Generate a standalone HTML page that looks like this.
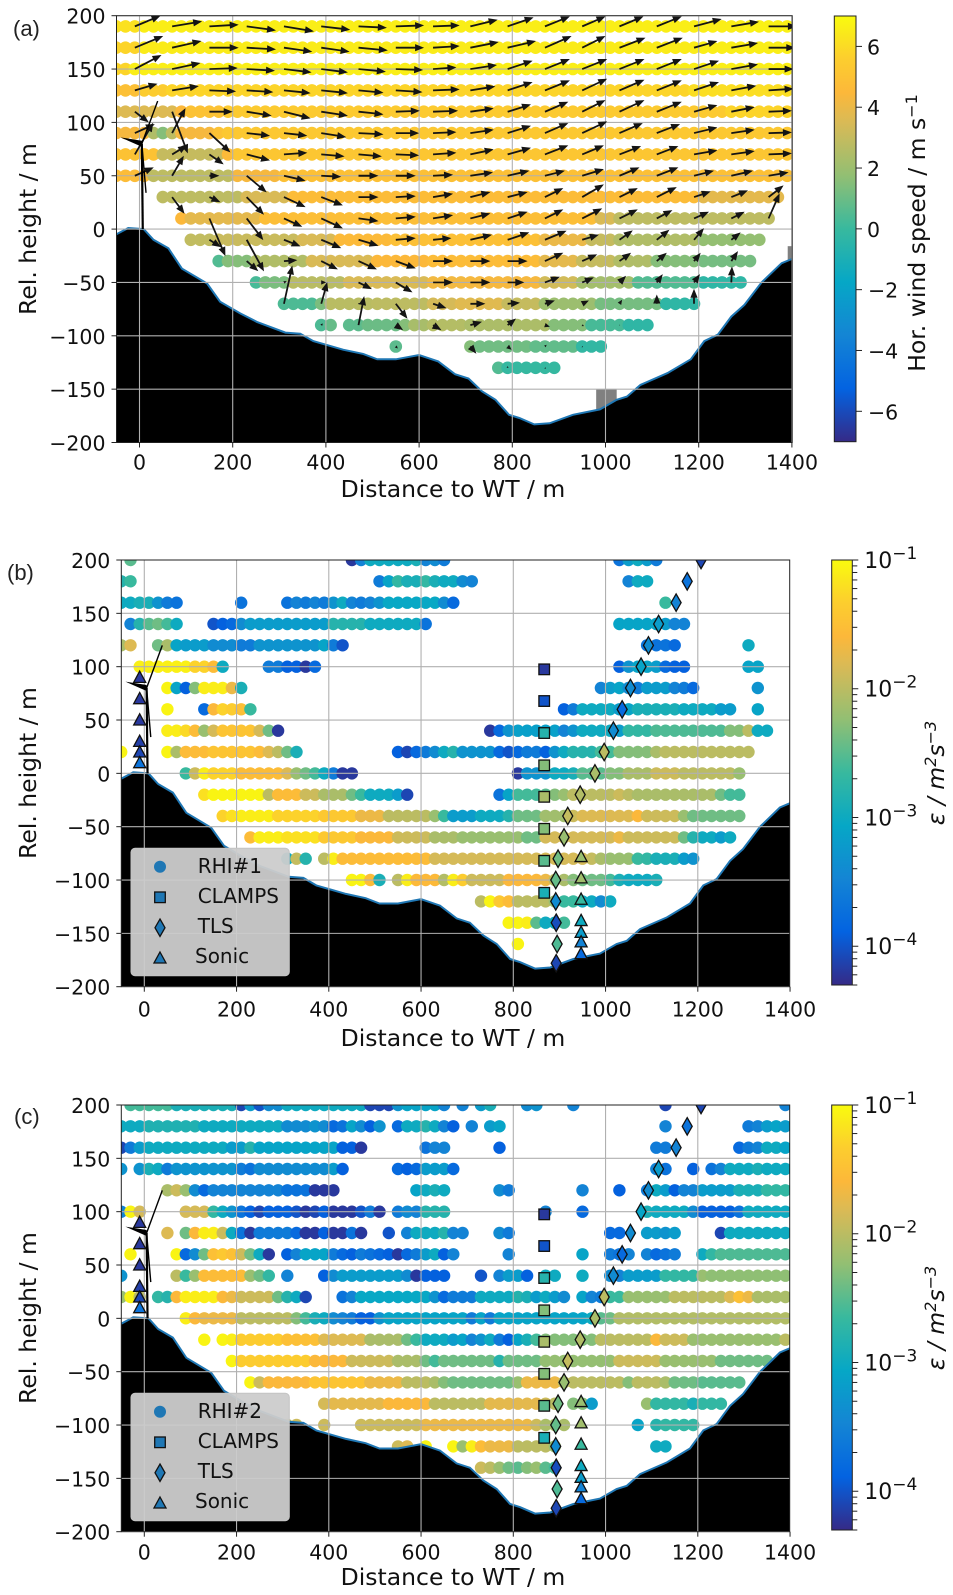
<!DOCTYPE html>
<html lang="en">
<head>
<meta charset="utf-8">
<title>Wind speed and dissipation rate along valley cross-section</title>
<style>
html,body{margin:0;padding:0;background:#fff;}
svg{display:block;}
text{font-family:"DejaVu Sans","Liberation Sans",sans-serif;fill:#111;}
.lab{font-size:23.5px;}
.leg{font-size:20px;}
.pl{font-family:"Liberation Sans",sans-serif;font-size:22px;fill:#222;}
</style>
</head>
<body>
<svg id="chart" xmlns="http://www.w3.org/2000/svg" width="953" height="1595" viewBox="0 0 953 1595">
<defs>
<clipPath id="clip-a"><rect x="116.5" y="15.7" width="675.7" height="426.8"/></clipPath>
<clipPath id="clip-b"><rect x="121.3" y="560" width="668.4" height="426.7"/></clipPath>
<clipPath id="clip-c"><rect x="121.3" y="1105" width="668.4" height="426.7"/></clipPath>
<linearGradient id="cmap" x1="0" y1="1" x2="0" y2="0"></linearGradient>
</defs>
<rect x="0" y="0" width="953" height="1595" fill="#fff"/>

<g id="panel-a"></g>
<g id="panel-b"></g>
<g id="panel-c"></g>

<text class="pl" x="13" y="36">(a)</text>
<text class="pl" x="7" y="580">(b)</text>
<text class="pl" x="14" y="1124">(c)</text>

<text class="lab" x="36" y="229" text-anchor="middle" transform="rotate(-90 36 229)">Rel. height / m</text>
<text class="lab" x="36" y="773" text-anchor="middle" transform="rotate(-90 36 773)">Rel. height / m</text>
<text class="lab" x="36" y="1318" text-anchor="middle" transform="rotate(-90 36 1318)">Rel. height / m</text>

<text class="lab" x="453" y="497" text-anchor="middle">Distance to WT / m</text>
<text class="lab" x="453" y="1046" text-anchor="middle">Distance to WT / m</text>
<text class="lab" x="453" y="1585" text-anchor="middle">Distance to WT / m</text>

<text class="lab" x="925" y="233" text-anchor="middle" transform="rotate(-90 925 233)">Hor. wind speed / m s<tspan dy="-8" font-size="16">−1</tspan></text>
<text class="lab" x="944" y="773" text-anchor="middle" transform="rotate(-90 944 773)" font-style="italic">ε / m<tspan dy="-8" font-size="16">2</tspan><tspan dy="8">s</tspan><tspan dy="-8" font-size="16">−3</tspan></text>
<text class="lab" x="944" y="1318" text-anchor="middle" transform="rotate(-90 944 1318)" font-style="italic">ε / m<tspan dy="-8" font-size="16">2</tspan><tspan dy="8">s</tspan><tspan dy="-8" font-size="16">−3</tspan></text>

<g>
<rect x="131" y="848.3" width="158.3" height="127.4" rx="4" fill="#cccccc" fill-opacity="0.95" stroke="#c4c4c4"/>
<circle cx="160" cy="866.7" r="6" fill="#1f77b4"/>
<rect x="154.7" y="892" width="10.6" height="10.6" fill="#1f77b4" stroke="#111" stroke-width="1.3"/>
<polygon points="160,919 165,927.7 160,936.4 155,927.7" fill="#1f77b4" stroke="#111" stroke-width="1.3"/>
<polygon points="160,952 166,963 154,963" fill="#1f77b4" stroke="#111" stroke-width="1.3"/>
<text class="leg" x="197.7" y="873">RHI#1</text>
<text class="leg" x="197.7" y="903">CLAMPS</text>
<text class="leg" x="197.7" y="933">TLS</text>
<text class="leg" x="195" y="963">Sonic</text>
</g>

<g>
<rect x="131" y="1393.3" width="158.3" height="127.4" rx="4" fill="#cccccc" fill-opacity="0.95" stroke="#c4c4c4"/>
<circle cx="160" cy="1411.7" r="6" fill="#1f77b4"/>
<rect x="154.7" y="1437" width="10.6" height="10.6" fill="#1f77b4" stroke="#111" stroke-width="1.3"/>
<polygon points="160,1464 165,1472.7 160,1481.4 155,1472.7" fill="#1f77b4" stroke="#111" stroke-width="1.3"/>
<polygon points="160,1497 166,1508 154,1508" fill="#1f77b4" stroke="#111" stroke-width="1.3"/>
<text class="leg" x="197.7" y="1418">RHI#2</text>
<text class="leg" x="197.7" y="1448">CLAMPS</text>
<text class="leg" x="197.7" y="1478">TLS</text>
<text class="leg" x="195" y="1508">Sonic</text>
</g>
</svg>

<script>
// ---------- shared axis data ----------
const xTickValues = [0, 200, 400, 600, 800, 1000, 1200, 1400];
const yTickValues = [200, 150, 100, 50, 0, -50, -100, -150, -200];
const windTickValues = [6, 4, 2, 0, -2, -4, -6];
const epsMajorExponents = [-1, -2, -3, -4];
const epsMinorMultipliers = [2, 3, 4, 5, 6, 7, 8, 9];

// ---------- terrain ----------
const terrainDistance = [-50,-24,9,30,62,91,145,173,216,252,313,345,373,437,480,510,550,600,641,677,706,735,764,793,815,847,880,930,988,1024,1046,1075,1133,1183,1212,1241,1270,1298,1335,1378,1400];
const terrainHeight = [-5,1,0,-10,-18,-37,-51,-68,-79,-87,-97,-98,-105,-113,-117,-122,-122,-118,-124,-136,-140,-152,-160,-174,-177,-183,-182,-174,-169,-160,-157,-146,-135,-122,-105,-99,-82,-71,-50,-32,-28];

// ---------- panel (a): wind speed rows, each run is [from m, to m, m/s] every 20 m ----------
const windHeights = [190,170,150,130,110,90,70,50,30,10,-10,-30,-50,-70,-90,-110,-130];
const windRuns = [
 [[-50,-10,6.2],[10,1290,6.6],[1310,1390,6.7]],
 [[-50,-10,5.8],[10,1190,6.5],[1210,1390,6.6]],
 [[-50,-30,5.8],[-10,1390,6.6]],
 [[-50,-10,4.9],[10,50,5.5],[70,1170,5.8],[1190,1390,6.1]],
 [[-50,70,3.6],[90,90,4.5],[110,170,5],[190,1250,5.4],[1270,1390,5.8]],
 [[-50,10,4.3],[30,30,2.5],[50,50,1.5],[70,70,2.8],[90,150,4.3],[170,170,5],[190,1390,5.3]],
 [[-50,30,5],[50,170,3],[190,190,4.6],[210,1390,5.2]],
 [[-50,10,4.7],[30,190,2.8],[210,290,4.3],[310,1390,4.9]],
 [[50,210,2.8],[230,310,3.5],[330,1190,4.7],[1210,1370,3.8]],
 [[90,90,4.5],[110,250,3.8],[270,970,4.8],[990,1010,3.5],[1030,1350,2.8]],
 [[110,150,2.9],[170,330,3.1],[350,410,3.5],[430,530,4.6],[550,850,4.9],[870,950,4],[970,1010,3],[1030,1190,2.5],[1210,1330,1.8]],
 [[170,170,0.5],[190,230,1.5],[250,350,2.5],[370,490,3.5],[510,610,4.5],[630,850,4.7],[870,930,3.8],[950,1010,3],[1030,1090,2.5],[1110,1190,1.5],[1210,1310,1.2]],
 [[250,250,0.3],[270,310,1.3],[330,430,2.7],[450,610,3.5],[630,690,4.2],[710,850,4.3],[870,930,3.3],[950,1050,2.2],[1070,1190,0.5],[1210,1290,-0.3]],
 [[310,370,0.4],[390,390,1.3],[410,490,2.7],[510,610,2.8],[630,670,3.4],[690,770,3.7],[790,850,3],[870,970,2],[990,1110,1.2],[1130,1190,-0.3]],
 [[390,390,0.4],[410,410,0.9],[450,470,0.7],[490,550,1],[570,570,1.5],[590,610,2.3],[630,690,2.6],[710,870,2.4],[890,950,1.5],[970,1030,0.3],[1050,1090,-0.3]],
 [[550,550,0.7],[710,710,1.5],[730,830,1.1],[850,930,0.8],[950,990,-0.2]],
 [[770,770,0.5],[790,890,-0.1]]
];

// ---------- panel (a): quiver ----------
const quiverColumns = [-10,70,150,230,310,390,470,550,630,710,790,870,950,1030,1110,1190,1270,1350];
const quiverHeights = [190,170,150,130,110,90,70,50,30,10,-10,-30,-50,-70,-90,-110,-130];
const quiverU = [
 [77,90,88,88,90,87,85,85,80,82,78,75,70,72,75,83,83,85],
 [85,88,88,88,85,85,88,85,80,85,85,80,70,78,78,70,80,80],
 [80,85,85,85,83,80,82,82,70,80,75,75,75,75,75,75,80,75],
 [68,80,80,80,80,80,75,80,80,75,75,75,75,75,75,75,75,75],
 [42,47,70,75,80,80,75,72,75,70,70,70,70,75,75,70,70,70],
 [60,40,63,70,70,75,75,70,70,70,70,70,75,70,70,70,70,70],
 [55,45,43,70,70,70,70,70,70,70,70,70,65,65,65,70,70,70],
 [57,35,30,60,65,60,60,60,60,68,65,60,65,60,65,60,65,60],
 [null,37,33,52,65,65,60,60,60,60,60,55,65,55,60,50,50,45],
 [null,null,48,50,55,65,60,60,60,60,60,55,60,55,47,45,40,33],
 [null,null,35,52,50,60,60,60,55,65,65,65,50,40,38,30,28,null],
 [null,null,null,35,40,50,55,60,60,60,60,55,45,35,30,20,20,null],
 [null,null,null,null,8,15,40,50,60,60,50,45,35,20,18,18,2,null],
 [null,null,null,null,25,18,4,35,40,45,37,30,20,8,0,0,null,null],
 [null,null,null,null,null,5,17,22,25,35,25,15,5,2,null,null,null,null],
 [null,null,null,null,null,null,null,6,null,18,12,5,2,null,null,null,null,null],
 [null,null,null,null,null,null,null,null,null,null,0,3,null,null,null,null,null,null]
];
const quiverV = [
 [32,15,5,-12,-15,-10,-4,3,3,20,27,30,30,30,30,22,14,0],
 [35,20,0,-5,-12,-12,-8,0,5,17,20,35,35,30,30,20,14,0],
 [42,18,3,-5,-10,-10,-8,-3,5,12,25,30,30,30,30,25,14,0],
 [20,13,-3,-5,-8,-8,-7,-5,3,12,25,30,35,32,30,25,14,5],
 [-32,-125,0,-12,-20,-12,-8,3,3,10,22,30,35,35,30,20,14,3],
 [27,75,-58,-8,-8,-12,-4,0,3,10,22,30,35,30,27,17,10,2],
 [95,27,-30,-18,5,-6,-6,-3,5,15,20,27,27,25,25,12,10,3],
 [25,60,0,-50,-15,-3,0,0,3,10,15,15,20,25,25,15,15,10],
 [null,-50,-15,-53,-30,-25,0,3,10,15,15,27,38,27,30,17,20,35],
 [null,null,-113,-65,-25,-30,-8,5,10,15,20,27,30,27,25,20,20,75],
 [null,null,-22,-95,-20,-25,-18,5,5,15,22,27,15,28,30,35,22,null],
 [null,null,null,-30,3,-25,-25,-22,0,0,0,25,20,25,25,25,30,null],
 [null,null,null,null,4,0,-20,-30,0,0,0,17,15,20,25,25,48,null],
 [null,null,null,null,115,65,2,-45,-13,0,3,10,10,12,28,45,null,null],
 [null,null,null,null,null,5,87,-15,-15,10,20,-5,-3,0,null,null,null,null],
 [null,null,null,null,null,null,null,-6,null,-22,-10,5,-2,null,null,null,null,null],
 [null,null,null,null,null,null,null,null,null,null,5,-3,null,null,null,null,null,null]
];

// ---------- panels (b),(c): log10 of dissipation rate, runs are [from m, to m, log10 eps] every 20 m ----------
const epsHeights = [200,180,160,140,120,100,80,60,40,20,0,-20,-40,-60,-80,-100,-120,-140,-160];
const epsRunsB = [
 [[-30,-30,-2.5],[450,450,-4.2],[470,470,-3.5],[490,570,-3],[590,590,-2.9],[610,610,-3.5],[630,630,-3.4],[650,650,-3.6],[1030,1030,-3.7],[1050,1050,-3.2],[1070,1070,-3],[1090,1090,-3.2],[1110,1110,-3.6]],
 [[-50,-50,-2.8],[-30,-30,-2.65],[510,510,-3.6],[530,530,-3.1],[550,550,-2.7],[570,590,-2.9],[610,610,-2.7],[630,630,-2.9],[650,670,-3],[690,690,-3.4],[710,710,-3.5],[1050,1050,-3.5],[1070,1090,-3]],
 [[-50,-30,-3],[-10,10,-2.9],[30,30,-3.3],[50,50,-3.6],[70,70,-3.7],[210,210,-3.7],[310,310,-3.7],[330,330,-3.5],[350,350,-3.6],[370,370,-3.5],[390,390,-3.6],[410,410,-3.3],[430,430,-3],[450,450,-3.5],[470,470,-3.6],[490,490,-3.5],[510,510,-3.3],[530,630,-3.05],[650,650,-3.4],[670,670,-3.8],[1130,1130,-2.65]],
 [[-30,-30,-3.5],[-10,-10,-2.8],[10,10,-2.5],[30,30,-2.4],[50,50,-2.6],[70,70,-3],[150,150,-4],[170,170,-3.9],[190,190,-3.8],[210,210,-3.4],[230,390,-3.2],[410,470,-2.8],[490,590,-3],[610,610,-3.7],[1030,1110,-3.1],[1130,1130,-3.2],[1150,1170,-3.5]],
 [[-50,-50,-2.1],[-30,-30,-1.8],[30,30,-2.4],[50,50,-2.1],[70,70,-3.1],[90,130,-3.2],[150,190,-3.4],[210,230,-3.6],[250,370,-3.3],[390,390,-3.1],[410,410,-3.6],[430,430,-4],[1090,1130,-3.7],[1150,1150,-3.8],[1310,1310,-3]],
 [[-10,90,-1.08],[110,130,-1.3],[150,150,-1.55],[170,170,-3],[270,290,-3.6],[310,330,-3.9],[350,350,-4.2],[370,370,-3.8],[1030,1030,-3.9],[1050,1050,-3.3],[1070,1090,-3.1],[1110,1110,-3.2],[1130,1130,-3.8],[1150,1170,-3.9],[1310,1330,-3.1]],
 [[50,50,-1.05],[70,70,-3.1],[90,90,-3.9],[110,110,-2.3],[130,170,-1.1],[190,190,-1.7],[210,210,-2.9],[990,990,-3.5],[1010,1010,-3.2],[1030,1030,-3.1],[1050,1050,-3.4],[1070,1070,-3.6],[1090,1110,-3.2],[1130,1130,-3.2],[1150,1150,-3.5],[1170,1170,-3.6],[1190,1190,-3.8],[1330,1330,-3.3]],
 [[50,50,-1.05],[130,130,-3.8],[150,150,-1.6],[170,170,-1.3],[190,190,-1.35],[210,210,-1.5],[230,230,-2.65],[910,910,-3.9],[930,930,-3.6],[950,1010,-3],[1030,1030,-3.2],[1050,1050,-3.1],[1070,1150,-2.9],[1170,1230,-3],[1250,1270,-3.2],[1330,1330,-3.1]],
 [[50,70,-1.1],[90,90,-1.25],[110,110,-1.55],[130,130,-2.2],[150,150,-1.85],[170,230,-1.45],[250,250,-1.85],[270,270,-2.4],[290,290,-4.2],[750,750,-4.2],[770,770,-3.8],[790,790,-3.3],[810,890,-3.15],[910,910,-3.5],[930,930,-3.3],[950,1010,-3],[1030,1030,-3.2],[1050,1090,-2.7],[1110,1250,-2.55],[1270,1290,-2.3],[1310,1310,-2],[1330,1350,-3]],
 [[-50,-50,-1.05],[50,50,-1.05],[70,70,-2.1],[90,130,-1.55],[150,230,-1.45],[250,250,-1.55],[270,270,-1.8],[290,290,-2],[310,310,-2.4],[330,330,-2.9],[550,550,-3.9],[570,570,-4.1],[590,590,-3.8],[610,610,-3.6],[630,630,-3.4],[650,650,-3],[670,670,-2.8],[690,750,-3.3],[770,770,-3.8],[790,790,-4],[810,810,-3.8],[830,850,-3.6],[870,870,-3.9],[890,890,-3.3],[910,910,-3],[930,970,-2.8],[990,1010,-2.6],[1030,1090,-2.3],[1110,1110,-2.1],[1130,1310,-2]],
 [[90,90,-2.65],[110,110,-1.9],[130,130,-1.1],[150,190,-1.3],[210,290,-1.55],[310,310,-1.8],[330,330,-2.2],[350,350,-2.4],[370,370,-2.6],[390,390,-3],[410,410,-3.6],[430,450,-4.2],[810,810,-4.2],[830,870,-3.3],[890,910,-3],[930,930,-2.9],[950,990,-2.5],[1010,1030,-2.3],[1050,1090,-2.1],[1110,1150,-1.9],[1170,1270,-2],[1290,1290,-2.2]],
 [[130,130,-1.2],[150,250,-1.05],[270,270,-2],[290,330,-1.55],[350,370,-1.9],[390,430,-2.1],[450,450,-2.4],[470,470,-2.65],[490,530,-3],[550,550,-3.2],[570,570,-4.1],[770,770,-3.7],[790,790,-3.1],[810,850,-2.6],[870,870,-2.5],[890,890,-2.3],[910,910,-2.2],[930,1010,-2],[1030,1030,-1.9],[1050,1050,-2],[1070,1230,-2.1],[1250,1250,-2.4],[1270,1290,-2.6]],
 [[170,170,-1.3],[190,190,-1.2],[210,270,-1.1],[290,370,-1.3],[390,450,-1.4],[470,510,-1.7],[530,610,-2],[630,630,-2.2],[650,650,-2.65],[670,710,-3.2],[730,770,-3],[790,790,-2.8],[810,850,-2.4],[870,910,-2.15],[930,930,-1.9],[950,1050,-1.8],[1070,1070,-1.6],[1090,1150,-1.9],[1170,1170,-2.2],[1190,1290,-2.4]],
 [[230,230,-1.55],[250,290,-1.1],[310,370,-1.2],[390,450,-1.4],[470,530,-1.6],[550,610,-1.9],[630,670,-2.1],[690,810,-2.2],[830,850,-2.4],[870,1010,-1.85],[1030,1030,-1.7],[1050,1150,-1.9],[1170,1170,-2.4],[1190,1190,-2.8],[1210,1230,-3],[1250,1250,-3.2],[1270,1270,-3]],
 [[310,310,-3],[330,330,-1.95],[350,350,-2.8],[390,390,-2],[410,410,-1.1],[430,610,-1.55],[630,950,-1.85],[970,970,-1.95],[990,990,-2.1],[1010,1050,-2.2],[1070,1070,-2.65],[1090,1090,-2.7],[1110,1150,-2.9],[1170,1170,-3.2],[1190,1190,-3.3]],
 [[450,470,-1.05],[490,490,-1.55],[510,510,-2.9],[550,550,-2],[570,570,-1.1],[590,630,-1.58],[650,650,-2.05],[670,670,-1.1],[690,690,-1.35],[710,770,-1.9],[790,850,-1.6],[870,870,-1.7],[890,890,-2],[910,910,-2.1],[930,930,-2.3],[950,990,-2.4],[1010,1010,-2.6],[1030,1030,-2.9],[1050,1090,-3],[1110,1110,-2.9]],
 [[730,730,-2],[750,750,-1.05],[770,770,-1.4],[790,790,-1.55],[810,870,-2],[890,890,-2.2],[910,930,-2.65],[950,970,-3],[990,990,-3.4],[1010,1010,-3]],
 [[790,810,-1.05],[830,830,-1.1],[850,850,-2.5],[870,890,-3],[910,910,-2.6]],
 [[810,810,-1.05]]
];
const epsRunsC = [
 [[-30,50,-2.6],[70,190,-2.9],[210,210,-4.1],[230,230,-3.2],[250,250,-4],[270,290,-3.4],[310,470,-3],[490,530,-4.1],[550,550,-3.3],[570,630,-3.1],[650,650,-3.5],[690,690,-3.5],[730,730,-3.2],[750,750,-2.9],[830,830,-3.4],[850,850,-3.3],[930,930,-3.5],[1130,1130,-4.1],[1390,1390,-3.5]],
 [[-50,-10,-3],[10,110,-2.85],[130,290,-3],[310,350,-3.4],[370,370,-3.3],[390,390,-3.4],[410,410,-3.8],[430,430,-3.7],[450,450,-3.1],[470,470,-3.4],[490,490,-3.9],[510,510,-3.3],[550,550,-3.8],[570,590,-3],[610,610,-2.8],[630,630,-3],[650,650,-3.5],[670,670,-3.9],[710,710,-3.5],[750,750,-3.2],[770,770,-3.1],[1130,1130,-3.5],[1310,1310,-3.6],[1330,1330,-3.5],[1350,1350,-3.2],[1370,1370,-3.1],[1390,1390,-3.2]],
 [[-50,-50,-4.1],[-30,-30,-3.6],[-10,-10,-3.2],[10,170,-3],[190,210,-3.2],[230,230,-2.8],[250,410,-3.1],[430,450,-3.9],[470,470,-4.2],[610,610,-3.7],[630,650,-3.5],[770,770,-3.9],[1110,1130,-3.6],[1290,1290,-3.8],[1310,1310,-3.6],[1330,1330,-3.5],[1350,1370,-3],[1390,1390,-3.1]],
 [[-50,-50,-3.3],[-10,-10,-3.3],[10,10,-2.9],[30,30,-3],[50,50,-3.6],[70,190,-3.3],[210,210,-3.6],[230,230,-3.7],[250,390,-3.4],[410,410,-3.2],[430,430,-3.9],[550,550,-3.8],[570,570,-3.9],[590,590,-3.8],[610,650,-3.2],[670,670,-3.8],[1110,1110,-3.5],[1130,1130,-3.7],[1190,1190,-3.9],[1230,1230,-3.7],[1250,1250,-3.5],[1270,1310,-3],[1330,1330,-2.9],[1350,1390,-3]],
 [[50,50,-2.1],[70,70,-1.9],[90,90,-2.2],[110,110,-3.4],[130,130,-3.8],[150,290,-3.5],[310,350,-3.7],[370,410,-4.2],[590,590,-3.1],[610,610,-3],[630,630,-2.9],[650,650,-3],[770,770,-3.4],[790,790,-3.6],[950,950,-3.5],[1030,1030,-3.9],[1090,1090,-3.6],[1110,1110,-3],[1130,1130,-3.2],[1150,1150,-3.9],[1170,1190,-3.5],[1210,1270,-3.2],[1290,1330,-2.9],[1350,1390,-2.7]],
 [[-50,-50,-3.5],[-30,-30,-1.05],[-10,-10,-1.85],[90,130,-1.85],[150,150,-2.7],[170,170,-3],[190,190,-3.3],[210,210,-3.7],[230,230,-3.9],[250,250,-4.1],[270,310,-3.9],[330,330,-4],[350,350,-4.2],[370,370,-4.1],[390,390,-3.9],[410,450,-4.2],[470,470,-4],[490,490,-3.6],[510,510,-4.2],[550,550,-3.6],[570,570,-3.4],[590,590,-3.5],[610,650,-2.8],[870,870,-3.5],[950,950,-3.8],[1090,1090,-2.9],[1110,1170,-3],[1190,1190,-3.4],[1210,1270,-3.9],[1290,1290,-3.7],[1310,1390,-3]],
 [[50,50,-1.8],[90,90,-2.4],[110,110,-1.6],[130,150,-1.1],[170,170,-1.9],[190,190,-3],[210,210,-3.7],[230,230,-4.2],[250,310,-3.6],[330,330,-3.8],[350,370,-4.2],[390,390,-3.9],[410,430,-4.2],[450,450,-3.7],[470,470,-4.2],[530,530,-4],[570,570,-3.5],[590,630,-3],[650,650,-2.8],[670,690,-3.5],[770,770,-3.4],[790,790,-3.6],[1010,1030,-3.8],[1090,1110,-3.2],[1130,1130,-3.3],[1150,1150,-3.2],[1250,1250,-4.1],[1270,1390,-3]],
 [[-30,-30,-1.05],[70,70,-1.05],[90,90,-3.8],[110,110,-3.4],[130,130,-2.4],[150,150,-1.5],[170,170,-1.4],[190,190,-1.5],[210,210,-1.9],[230,230,-2.4],[250,250,-3],[270,270,-4.2],[310,310,-3.9],[330,330,-3.5],[350,390,-3.1],[410,410,-3.6],[430,430,-3.8],[450,450,-3.9],[470,470,-3.6],[490,490,-3.7],[510,510,-3.8],[530,530,-3.9],[550,550,-4.2],[570,570,-3.8],[590,590,-3.6],[610,610,-3.2],[630,630,-3],[650,650,-3.9],[670,670,-3.5],[790,790,-3.5],[950,950,-3.1],[1010,1010,-3.6],[1030,1030,-3.7],[1050,1050,-3.5],[1090,1090,-3.5],[1110,1110,-3.8],[1130,1130,-3.7],[1150,1150,-3.6],[1210,1210,-3],[1230,1230,-2.7],[1250,1390,-2.55]],
 [[-50,-50,-3.3],[70,70,-2],[90,90,-2.65],[110,110,-2.2],[130,210,-1.55],[230,230,-2.2],[250,250,-2.4],[270,270,-2.7],[310,310,-3.5],[390,390,-3.9],[410,410,-3.4],[430,550,-3.2],[570,570,-3.4],[590,590,-4.2],[610,650,-3.9],[730,730,-4],[770,770,-3.5],[790,810,-3.2],[830,830,-3.9],[870,890,-3],[950,950,-3],[1010,1010,-3.4],[1030,1030,-3.5],[1050,1110,-3.2],[1130,1190,-2.7],[1210,1210,-2.2],[1230,1390,-2.25]],
 [[-50,-50,-2.2],[-30,-30,-1.05],[-10,-10,-2],[30,30,-2.7],[50,50,-2.8],[70,70,-1.6],[90,150,-1.1],[170,170,-1.6],[190,190,-1.7],[210,270,-1.9],[290,290,-2.4],[310,310,-2.8],[330,330,-3],[350,350,-4.1],[430,430,-3.7],[450,450,-3.5],[470,610,-3.05],[630,630,-3.3],[650,650,-3.8],[670,710,-3.6],[730,790,-3],[810,810,-2.8],[830,830,-2.9],[850,850,-3.2],[870,870,-3],[890,890,-3.2],[910,910,-3.4],[950,950,-3.1],[970,970,-3.5],[990,990,-3.6],[1010,1030,-2.65],[1050,1130,-2.2],[1150,1250,-2],[1270,1270,-1.8],[1290,1290,-1.5],[1310,1310,-1.7],[1330,1390,-2.1]],
 [[90,90,-1.1],[110,110,-1.6],[130,190,-1.7],[210,310,-2],[330,330,-2.3],[350,350,-2.6],[370,370,-2.9],[390,390,-3],[410,410,-3.4],[430,430,-3.5],[450,450,-3.6],[470,490,-3.9],[510,510,-3.3],[530,690,-3.1],[710,710,-3.6],[730,730,-3.1],[750,750,-3.6],[770,950,-3.1],[970,970,-3],[990,990,-2.5],[1010,1010,-2.4],[1030,1390,-2.05]],
 [[130,130,-1.05],[170,170,-1.05],[190,190,-1.1],[210,290,-1.35],[310,370,-1.5],[390,470,-1.8],[490,550,-2.1],[570,570,-2.4],[590,590,-2.65],[610,650,-3],[670,670,-3.2],[690,690,-3.1],[710,710,-3.5],[730,730,-3.3],[750,750,-3],[770,770,-3.6],[790,790,-3.9],[810,810,-3.1],[830,830,-2.9],[850,850,-2.6],[870,970,-2.3],[990,1090,-2],[1110,1110,-1.6],[1130,1170,-1.9],[1190,1370,-2.2],[1390,1390,-2]],
 [[190,190,-1.05],[210,350,-1.35],[370,430,-1.6],[450,530,-1.9],[550,590,-2.1],[610,610,-2.4],[630,630,-2.6],[650,750,-2.4],[770,770,-2.8],[790,850,-2.4],[870,1010,-2.22],[1030,1110,-1.9],[1130,1230,-2.2],[1250,1350,-2.4]],
 [[230,230,-1.05],[250,250,-1.9],[270,350,-1.6],[370,470,-1.45],[490,550,-1.7],[570,610,-2],[630,630,-2.1],[650,650,-2.3],[670,790,-2.4],[810,810,-2.2],[830,890,-1.7],[910,1030,-2],[1050,1050,-2.3],[1070,1110,-2],[1130,1130,-2.1],[1150,1190,-2.4],[1210,1290,-2.5]],
 [[390,390,-1.85],[410,510,-1.75],[530,610,-1.6],[630,730,-2],[750,850,-1.75],[870,870,-1.9],[890,890,-2],[930,950,-2.3],[970,970,-3.2],[1090,1090,-2.2],[1110,1170,-2.7],[1190,1190,-2.9],[1210,1250,-2.7]],
 [[310,310,-2],[330,330,-1.9],[390,390,-1.9],[470,590,-1.9],[610,830,-1.7],[850,850,-1.9],[870,910,-2.1],[1070,1070,-3.1],[1110,1110,-2.8],[1130,1190,-2.7]],
 [[550,550,-1.9],[570,570,-1.8],[610,610,-1.05],[670,670,-1.05],[690,690,-2.2],[710,710,-1.1],[730,730,-1.55],[750,790,-1.7],[810,870,-2],[890,890,-2.2],[1110,1130,-3]],
 [[730,730,-1.9],[750,750,-2],[770,770,-2.2],[790,790,-2.4],[810,810,-2.5],[830,830,-2.3],[850,850,-2.2],[870,870,-2.5],[890,890,-2.6]],
 []
];

// ---------- instruments (same in (b) and (c)) ----------
const sonicNearDistance = [-10,-10,-10,-10,-10,-10];
const sonicNearHeight = [90,70,50,30,20,10];
const sonicNearEps = [-4.2,-4.2,-4.2,-4.15,-4.1,-3.7];
const sonicFarDistance = [947,947,947,947,947,947,947];
const sonicFarHeight = [-78,-98,-118,-138,-149,-158,-169];
const sonicFarEps = [-2.2,-2.15,-2.65,-3,-3.2,-3.5,-3.8];
const clampsDistance = [867,867,867,867,867,867,867,867];
const clampsHeight = [97.5,67.8,37.8,7.5,-22,-52,-82,-112];
const clampsEps = [-4.2,-4,-2.8,-2.3,-2.1,-2.3,-2.5,-2.9];
const tlsDistance = [1207,1177,1153,1115,1093,1077,1054,1036,1017,997,977,945,918,910,897,892,892,893,895,893];
const tlsHeight = [200,180,160,140,120,100,80,60,40,20,0,-20,-40,-60,-80,-100,-120,-140,-160,-178];
const tlsEps = [-4.1,-3.7,-3.5,-3.2,-3.4,-3.1,-3.4,-3.8,-3.4,-2,-2.1,-2.05,-1.95,-2.2,-2.4,-2.45,-3.4,-4.05,-2.55,-4.1];

// ---------- colormap ----------
const cmapStops = [[0,'#352a87'],[0.125,'#0363e1'],[0.25,'#1485d4'],[0.375,'#06a7c6'],[0.5,'#38b99e'],[0.625,'#92bf73'],[0.75,'#d9ba56'],[0.82,'#fcb83a'],[0.9,'#fcce2e'],[1,'#f9fb0e']];
function hexRgb(h){return [parseInt(h.slice(1,3),16),parseInt(h.slice(3,5),16),parseInt(h.slice(5,7),16)];}
function cmap(t){
  t=Math.max(0,Math.min(1,t));
  for(let i=1;i<cmapStops.length;i++){
    if(t<=cmapStops[i][0]){
      const a=cmapStops[i-1],b=cmapStops[i],f=(t-a[0])/(b[0]-a[0]);
      const A=hexRgb(a[1]),B=hexRgb(b[1]);
      return 'rgb('+A.map((v,k)=>Math.round(v+(B[k]-v)*f)).join(',')+')';
    }
  }
  return cmapStops[cmapStops.length-1][1];
}
const windColor=v=>cmap((v+7)/14);
const EPS_MIN=Math.log10(5e-5), EPS_MAX=-1;
const epsColor=v=>cmap((v-EPS_MIN)/(EPS_MAX-EPS_MIN));

const NS='http://www.w3.org/2000/svg';
function make(tag,attrs,parent){
  const el=document.createElementNS(NS,tag);
  for(const k in attrs) el.setAttribute(k,attrs[k]);
  parent.appendChild(el);
  return el;
}
const gradient=document.getElementById('cmap');
cmapStops.forEach(s=>{
  const st=make('stop',{offset:s[0],'stop-color':s[1]},gradient);
  
  
});

function formatTick(v){return v<0?'\u2212'+Math.abs(v):String(v);}

function buildAxes(panel){
  const sx=m=>panel.xZero+m*panel.xScale;
  const sy=h=>panel.top+(200-h)*(panel.bottom-panel.top)/400;
  return {sx,sy};
}

function drawDots(group,heights,runs,colorFn,sx,sy,name,radius){
  heights.forEach((h,r)=>{
    runs[r].forEach(run=>{
      for(let m=run[0];m<=run[1];m+=20){
        const c=make('circle',{cx:sx(m).toFixed(1),cy:sy(h).toFixed(1),r:radius,fill:colorFn(run[2])},group);
        
        
      }
    });
  });
}

function drawTerrain(group,sx,sy,panel){
  let d='M'+sx(terrainDistance[0])+' '+panel.bottom;
  terrainDistance.forEach((m,i)=>{d+=' L'+sx(m).toFixed(1)+' '+sy(terrainHeight[i]).toFixed(1);});
  d+=' L'+panel.right+' '+sy(terrainHeight[terrainHeight.length-1]).toFixed(1)+' L'+panel.right+' '+panel.bottom+' Z';
  const fill=make('path',{d:d,fill:'#000'},group);
  
  
  const pts=terrainDistance.map((m,i)=>sx(m).toFixed(1)+','+sy(terrainHeight[i]).toFixed(1)).join(' ');
  const line=make('polyline',{points:pts,fill:'none',stroke:'#1f77b4','stroke-width':2},group);
  
  
}

function drawGrid(group,sx,sy,panel){
  xTickValues.forEach(v=>{
    const l=make('line',{x1:sx(v),x2:sx(v),y1:panel.top,y2:panel.bottom,stroke:'#b0b0b0','stroke-width':1.1},group);
    
    
  });
  yTickValues.forEach(v=>{
    const l=make('line',{x1:panel.left,x2:panel.right,y1:sy(v),y2:sy(v),stroke:'#b0b0b0','stroke-width':1.1},group);
    
    
  });
}

function drawTurbine(group,sx,sy){
  const hub=[5,80], tipUp=[39,120], tipLeft=[-41,86], tipDown=[14,34], base=[7,0];
  const mast=make('line',{x1:sx(base[0]),y1:sy(base[1]),x2:sx(hub[0]),y2:sy(hub[1]),stroke:'#000','stroke-width':2.2},group);
  
  
  const up=make('line',{x1:sx(hub[0]),y1:sy(hub[1]),x2:sx(tipUp[0]),y2:sy(tipUp[1]),stroke:'#000','stroke-width':1.4},group);
  
  
  const down=make('line',{x1:sx(hub[0]),y1:sy(hub[1]),x2:sx(tipDown[0]),y2:sy(tipDown[1]),stroke:'#000','stroke-width':1.4},group);
  
  
  const left=make('polygon',{points:sx(tipLeft[0])+','+sy(tipLeft[1])+' '+sx(hub[0])+','+(sy(hub[1])-3)+' '+sx(hub[0])+','+(sy(hub[1])+3),fill:'#000'},group);
  
  
}

function drawArrow(group,x,y,u,v){
  const scale=1/3;
  const dx=u*scale, dy=-v*scale, len=Math.hypot(dx,dy);
  if(len===0) return;
  const ux=dx/len, uy=dy/len, nx=-uy, ny=ux;
  const hl=Math.min(9,len), hw=3.2*(hl/9)+0.4, sw=0.9;
  const bx=x+ux*(len-hl), by=y+uy*(len-hl);
  const p=[[x+nx*sw,y+ny*sw],[bx+nx*sw,by+ny*sw],[bx+nx*hw,by+ny*hw],[x+dx,y+dy],[bx-nx*hw,by-ny*hw],[bx-nx*sw,by-ny*sw],[x-nx*sw,y-ny*sw]];
  const a=make('polygon',{points:p.map(q=>q[0].toFixed(1)+','+q[1].toFixed(1)).join(' '),fill:'#141414'},group);
  
  
}

function drawMarkers(group,kind,dist,height,eps,sx,sy){
  dist.forEach((m,i)=>{
    const x=sx(m), y=sy(height[i]), col=epsColor(eps[i]);
    let el;
    if(kind==='square'){
      el=make('rect',{x:x-5.3,y:y-5.3,width:10.6,height:10.6,fill:col,stroke:'#111','stroke-width':1.3},group);
    }else if(kind==='diamond'){
      el=make('polygon',{points:x+','+(y-8.7)+' '+(x+5)+','+y+' '+x+','+(y+8.7)+' '+(x-5)+','+y,fill:col,stroke:'#111','stroke-width':1.3},group);
    }else{
      el=make('polygon',{points:x+','+(y-6.2)+' '+(x+6)+','+(y+5)+' '+(x-6)+','+(y+5),fill:col,stroke:'#111','stroke-width':1.3},group);
    }
    
    
  });
}

function drawFrame(group,sx,sy,panel){
  const f=make('rect',{x:panel.left,y:panel.top,width:panel.right-panel.left,height:panel.bottom-panel.top,fill:'none',stroke:'#222','stroke-width':1},group);
  
  
  xTickValues.forEach(v=>{
    const t=make('line',{x1:sx(v),x2:sx(v),y1:panel.bottom,y2:panel.bottom+5,stroke:'#222','stroke-width':1},group);
    
    
    const lab=make('text',{x:sx(v),y:panel.bottom+panel.xLabelGap,'text-anchor':'middle','font-size':20.5},group);
    lab.textContent=formatTick(v);
    
    
  });
  yTickValues.forEach(v=>{
    const t=make('line',{x1:panel.left-5,x2:panel.left,y1:sy(v),y2:sy(v),stroke:'#222','stroke-width':1},group);
    
    
    const lab=make('text',{x:panel.left-11,y:sy(v)+8,'text-anchor':'end','font-size':20.5},group);
    lab.textContent=formatTick(v);
    
    
  });
}

function drawColorbarBox(group,cb){
  const r=make('rect',{x:cb.left,y:cb.top,width:cb.right-cb.left,height:cb.bottom-cb.top,fill:'url(#cmap)',stroke:'#222','stroke-width':1},group);
  
  
}

function drawWindColorbar(group,cb){
  drawColorbarBox(group,cb);
  const sc=v=>cb.top+(7-v)*(cb.bottom-cb.top)/14;
  windTickValues.forEach(v=>{
    const t=make('line',{x1:cb.right,x2:cb.right+6,y1:sc(v),y2:sc(v),stroke:'#222','stroke-width':1},group);
    
    
    const lab=make('text',{x:cb.right+(v<0?12:11),y:sc(v)+8,'font-size':20.5},group);
    lab.textContent=formatTick(v);
    
    
  });
}

function drawEpsColorbar(group,cb){
  drawColorbarBox(group,cb);
  const sc=v=>cb.top+(EPS_MAX-v)*(cb.bottom-cb.top)/(EPS_MAX-EPS_MIN);
  const decades=[-5,-4,-3,-2];
  decades.forEach(d=>{
    epsMinorMultipliers.forEach(k=>{
      const lg=d+Math.log10(k);
      if(lg<EPS_MIN-1e-9||lg>EPS_MAX) return;
      const t=make('line',{x1:cb.right,x2:cb.right+5,y1:sc(lg),y2:sc(lg),stroke:'#222','stroke-width':1},group);
      
      
    });
  });
  epsMajorExponents.forEach(e=>{
    const t=make('line',{x1:cb.right,x2:cb.right+6,y1:sc(e),y2:sc(e),stroke:'#222','stroke-width':1},group);
    
    
    const lab=make('text',{x:cb.right+12,y:sc(e)+8,'font-size':22},group);
    
    
    lab.appendChild(document.createTextNode('10'));
    const sup=make('tspan',{dy:-9,'font-size':17},lab);
    sup.textContent=formatTick(e);
    
    
  });
}

function drawPanelA(){
  const panel={left:116.5,right:792.2,top:15.7,bottom:442.5,xZero:139.5,xScale:0.466,xLabelGap:27};
  const {sx,sy}=buildAxes(panel);
  const root=document.getElementById('panel-a');
  const plot=make('g',{'clip-path':'url(#clip-a)'},root);
  
  
  drawDots(plot,windHeights,windRuns,windColor,sx,sy,'wind-speed-point',6.3);
  const grey1=make('rect',{x:sx(980),y:sy(-150),width:sx(1024)-sx(980),height:sy(-175)-sy(-150),fill:'#808080'},plot);
  
  
  const grey2=make('rect',{x:sx(1391),y:sy(-16),width:sx(1400)-sx(1391),height:sy(-40)-sy(-16),fill:'#808080'},plot);
  
  
  drawTerrain(plot,sx,sy,panel);
  drawGrid(plot,sx,sy,panel);
  quiverHeights.forEach((h,r)=>{
    quiverColumns.forEach((m,c)=>{
      if(quiverU[r][c]===null||quiverV[r][c]===null) return;
      drawArrow(plot,sx(m),sy(h),quiverU[r][c],quiverV[r][c]);
    });
  });
  drawTurbine(plot,sx,sy);
  drawFrame(root,sx,sy,panel);
  drawWindColorbar(root,{left:834.3,right:856,top:16,bottom:441.7});
}

function drawEpsPanel(id,clip,top,bottom,runs,cbTop,cbBottom,gap){
  const panel={left:121.3,right:789.7,top:top,bottom:bottom,xZero:144.3,xScale:0.46125,xLabelGap:gap};
  const {sx,sy}=buildAxes(panel);
  const root=document.getElementById(id);
  const plot=make('g',{'clip-path':'url(#'+clip+')'},root);
  
  
  drawDots(plot,epsHeights,runs,epsColor,sx,sy,'rhi-dissipation-point',6.2);
  drawTerrain(plot,sx,sy,panel);
  drawGrid(plot,sx,sy,panel);
  drawTurbine(plot,sx,sy);
  drawMarkers(plot,'triangle',sonicNearDistance,sonicNearHeight,sonicNearEps,sx,sy);
  drawMarkers(plot,'triangle',sonicFarDistance,sonicFarHeight,sonicFarEps,sx,sy);
  drawMarkers(plot,'square',clampsDistance,clampsHeight,clampsEps,sx,sy);
  drawMarkers(plot,'diamond',tlsDistance,tlsHeight,tlsEps,sx,sy);
  drawFrame(root,sx,sy,panel);
  drawEpsColorbar(root,{left:831.7,right:852.3,top:cbTop,bottom:cbBottom});
}

drawPanelA();
drawEpsPanel('panel-b','clip-b',560,986.7,epsRunsB,560,985,30);
drawEpsPanel('panel-c','clip-c',1105,1531.7,epsRunsC,1105,1530,28);
</script>
</body>
</html>
